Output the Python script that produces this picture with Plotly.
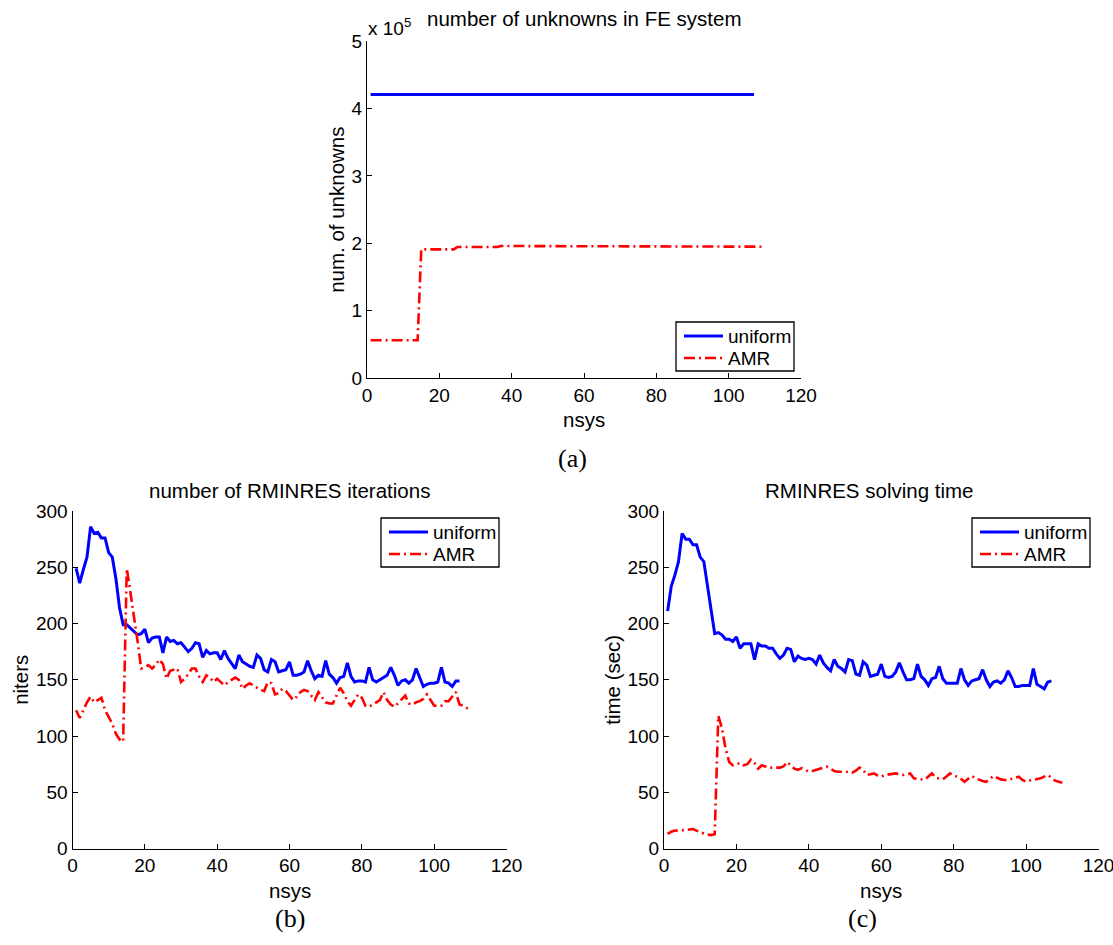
import plotly.graph_objects as go

# ---------------- data ----------------
nsys_uniform = list(range(1, 108))
nsys_amr = list(range(1, 111))

unknowns_uniform = [
    421000, 421000, 421000, 421000, 421000, 421000, 421000, 421000, 421000, 421000,
    421000, 421000, 421000, 421000, 421000, 421000, 421000, 421000, 421000, 421000,
    421000, 421000, 421000, 421000, 421000, 421000, 421000, 421000, 421000, 421000,
    421000, 421000, 421000, 421000, 421000, 421000, 421000, 421000, 421000, 421000,
    421000, 421000, 421000, 421000, 421000, 421000, 421000, 421000, 421000, 421000,
    421000, 421000, 421000, 421000, 421000, 421000, 421000, 421000, 421000, 421000,
    421000, 421000, 421000, 421000, 421000, 421000, 421000, 421000, 421000, 421000,
    421000, 421000, 421000, 421000, 421000, 421000, 421000, 421000, 421000, 421000,
    421000, 421000, 421000, 421000, 421000, 421000, 421000, 421000, 421000, 421000,
    421000, 421000, 421000, 421000, 421000, 421000, 421000, 421000, 421000, 421000,
    421000, 421000, 421000, 421000, 421000, 421000, 421000]

unknowns_amr = [
    56000, 56000, 56000, 56000, 56000, 56000, 56000, 56000, 56000, 56000,
    56000, 56000, 56000, 56000, 191000, 191000, 191000, 191000, 191000, 191000,
    191000, 191000, 191000, 191000, 194500, 194500, 194500, 194500, 194500, 194500,
    194500, 194500, 194500, 194500, 194500, 194500, 196000, 196000, 196000, 196000,
    196000, 196000, 196000, 196000, 196000, 196000, 196000, 196000, 196000, 196000,
    196000, 196000, 196000, 196000, 196000, 196000, 196000, 196000, 195000, 195000,
    195000, 195000, 195000, 195000, 195000, 195000, 195000, 195000, 195000, 195000,
    195000, 195000, 195000, 195000, 195000, 195000, 195000, 195000, 195000, 195000,
    195000, 195000, 195000, 195000, 195000, 195000, 195000, 195000, 195000, 195000,
    195000, 195000, 195000, 195000, 195000, 195000, 195000, 195000, 195000, 195000,
    195000, 195000, 195000, 195000, 195000, 195000, 195000, 195000, 195000, 195000]

niters_uniform = [
    249, 236, 248, 259, 286, 280, 281, 276, 276, 263,
    259, 240, 214, 199, 199, 196, 193, 190, 191, 195,
    183, 187, 188, 188, 174, 188, 184, 185, 182, 183,
    179, 175, 178, 183, 182, 170, 176, 173, 174, 174,
    168, 176, 169, 165, 160, 172, 166, 164, 162, 161,
    172, 169, 159, 157, 168, 166, 157, 158, 159, 166,
    154, 154, 155, 157, 167, 158, 151, 154, 153, 167,
    155, 152, 147, 152, 153, 165, 153, 148, 149, 149,
    148, 161, 150, 148, 150, 152, 154, 161, 154, 145,
    149, 150, 147, 150, 160, 152, 144, 146, 147, 147,
    148, 161, 148, 147, 144, 149, 149]

niters_amr = [
    123, 116, 123, 130, 135, 130, 132, 134, 123, 117,
    111, 102, 97, 95, 249, 228, 208, 184, 160, 161,
    163, 160, 163, 168, 164, 151, 158, 159, 160, 148,
    151, 155, 160, 160, 153, 148, 154, 152, 148, 151,
    148, 145, 148, 150, 152, 150, 142, 145, 147, 145,
    143, 141, 140, 148, 147, 137, 138, 142, 140, 136,
    132, 135, 139, 141, 140, 136, 132, 139, 134, 130,
    129, 129, 136, 143, 138, 131, 127, 132, 137, 134,
    127, 126, 128, 130, 132, 139, 132, 128, 126, 129,
    133, 136, 129, 128, 130, 131, 133, 137, 132, 127,
    127, 127, 131, 131, 135, 139, 128, 127, 125, 123]

time_uniform = [
    211, 233, 243, 255, 280, 275, 275, 270, 270, 259,
    255, 234, 212, 191, 192, 190, 186, 186, 184, 188,
    178, 182, 182, 182, 168, 182, 180, 180, 178, 178,
    173, 169, 172, 178, 177, 166, 171, 169, 168, 169,
    168, 164, 172, 165, 161, 158, 168, 162, 160, 157,
    168, 167, 155, 154, 166, 163, 153, 154, 155, 164,
    153, 152, 153, 157, 165, 157, 150, 150, 151, 164,
    153, 150, 145, 151, 152, 162, 151, 147, 147, 147,
    147, 160, 150, 145, 149, 150, 151, 159, 150, 144,
    148, 149, 147, 150, 158, 152, 144, 144, 145, 145,
    145, 160, 146, 144, 142, 148, 149]

time_amr = [
    13, 15, 16, 16, 16.5, 16.5, 17, 17.4, 16, 14.5,
    13.5, 12.5, 12, 12.7, 118, 107, 89, 77, 74, 75,
    76, 74, 75, 79, 76, 71, 74, 73, 71.7, 72,
    72.3, 72, 73, 77, 74, 71, 70, 71.5, 70, 68.3,
    69, 70, 71.5, 72, 72.8, 71, 69, 68.3, 68.5, 68.3,
    68, 67.4, 69.2, 72, 70, 65.4, 66, 66.8, 65, 64,
    65.4, 66, 66.5, 66.8, 66, 65.4, 66, 66.8, 62.4, 62,
    61, 61.2, 64, 66.8, 63, 62, 61.5, 64, 66.8, 65,
    63.9, 62, 59.4, 62, 64.5, 62.5, 61, 60, 59.4, 62,
    64.5, 63, 61.5, 61, 61, 62, 63, 63.9, 61, 59.4,
    60.5, 61, 62, 62.4, 64, 65.4, 63, 60.4, 59.4, 58.5]

series_names = ["uniform", "AMR"]
x_ticks = [0, 20, 40, 60, 80, 100, 120]
y_ticks_a = [0, 100000, 200000, 300000, 400000, 500000]
y_ticklabels_a = ["0", "1", "2", "3", "4", "5"]
y_ticks_bc = [0, 50, 100, 150, 200, 250, 300]

# ---------------- style ----------------
W, H = 1113, 945
SANS = "Liberation Sans, Arial, Helvetica, sans-serif"
SERIF = "Liberation Serif, Times New Roman, serif"
BLUE = "#0000ff"
RED = "#ff0000"
DASHDOT = "11px,4px,2px,4px"
FS_TICK = 19
FS_LABEL = 20.5
BLUE_W = 3
RED_W = 2.6


def px_x(p):
    return p / W


def px_y(p):
    return 1 - p / H


fig = go.Figure()

panels = [
    ("x", "y", unknowns_uniform, unknowns_amr),
    ("x2", "y2", niters_uniform, niters_amr),
    ("x3", "y3", time_uniform, time_amr),
]
for xa, ya, yu, yr in panels:
    fig.add_trace(go.Scatter(x=nsys_uniform, y=yu, mode="lines", name=series_names[0],
                             line=dict(color=BLUE, width=BLUE_W), xaxis=xa, yaxis=ya,
                             showlegend=False))
    fig.add_trace(go.Scatter(x=nsys_amr, y=yr, mode="lines", name=series_names[1],
                             line=dict(color=RED, width=RED_W, dash=DASHDOT),
                             xaxis=xa, yaxis=ya, showlegend=False))

axis_common = dict(showline=True, linecolor="black", linewidth=1, mirror=False,
                   ticks="inside", ticklen=5, tickwidth=1, tickcolor="black",
                   showgrid=False, zeroline=False, automargin=False,
                   ticklabeloverflow="allow",
                   tickfont=dict(family=SANS, size=FS_TICK, color="black"))


def xaxis(domain, anchor):
    d = dict(axis_common)
    d.update(domain=domain, anchor=anchor, range=[0, 120], tickmode="array",
             tickvals=x_ticks)
    return d


def yaxis(domain, anchor, rng, tickvals, ticktext, title):
    d = dict(axis_common)
    d.update(domain=domain, anchor=anchor, range=rng, tickmode="array",
             tickvals=tickvals, ticktext=ticktext,
             title=dict(text=title, font=dict(family=SANS, size=FS_LABEL, color="black"),
                        standoff=1))
    return d


xa_dom = [px_x(367), px_x(801)]
xb_dom = [px_x(72.5), px_x(506.5)]
xc_dom = [px_x(664), px_x(1098.5)]
ya_dom = [px_y(378), px_y(41.3)]
ybc_dom = [px_y(848.6), px_y(511)]

fig.update_layout(
    width=W, height=H,
    margin=dict(l=0, r=0, t=0, b=0),
    paper_bgcolor="white", plot_bgcolor="white",
    font=dict(family=SANS, size=FS_TICK, color="black"),
    showlegend=False,
    xaxis=xaxis(xa_dom, "y"),
    yaxis=yaxis(ya_dom, "x", [0, 500000], y_ticks_a, y_ticklabels_a, "num. of unknowns"),
    xaxis2=xaxis(xb_dom, "y2"),
    yaxis2=yaxis(ybc_dom, "x2", [0, 300], y_ticks_bc, [str(v) for v in y_ticks_bc], "niters"),
    xaxis3=xaxis(xc_dom, "y3"),
    yaxis3=yaxis(ybc_dom, "x3", [0, 300], y_ticks_bc, [str(v) for v in y_ticks_bc], "time (sec)"),
)

# titles
for text, cx, cy in [("number of unknowns in FE system", 584, 19),
                     ("number of RMINRES iterations", 289.5, 490),
                     ("RMINRES solving time", 869, 490)]:
    fig.add_annotation(xref="paper", yref="paper", showarrow=False, text=text,
                       x=px_x(cx), y=px_y(cy), xanchor="center", yanchor="middle",
                       font=dict(family=SANS, size=FS_LABEL, color="black"))

# x-axis titles, placed right under the tick labels
for cx, ty in [(584, 406), (289.5, 877), (881, 877)]:
    fig.add_annotation(xref="paper", yref="paper", showarrow=False, text="nsys",
                       x=px_x(cx), y=px_y(ty), xanchor="center", yanchor="top",
                       font=dict(family=SANS, size=FS_LABEL, color="black"))

# exponent label
fig.add_annotation(xref="paper", yref="paper", showarrow=False,
                   text="x 10<sup>5</sup>", x=px_x(366), y=px_y(27),
                   xanchor="left", yanchor="middle",
                   font=dict(family=SANS, size=FS_TICK, color="black"))

# sub-figure labels
for lbl, cx, cy in [("(a)", 572, 458), ("(b)", 290, 918), ("(c)", 862, 918)]:
    fig.add_annotation(xref="paper", yref="paper", showarrow=False,
                       text=lbl, x=px_x(cx), y=px_y(cy),
                       xanchor="center", yanchor="middle",
                       font=dict(family=SERIF, size=26, color="black"))

# legends (box, line samples, labels) in MATLAB style
for left, top in [(676, 322), (381, 518), (972, 518)]:
    right, bottom = left + 118, top + 49
    fig.add_shape(type="rect", xref="paper", yref="paper",
                  x0=px_x(left), x1=px_x(right), y0=px_y(bottom), y1=px_y(top),
                  line=dict(color="black", width=1.3), fillcolor="white", layer="above")
    rows = [(top + 14, BLUE, BLUE_W, "solid", series_names[0]),
            (top + 36, RED, RED_W, DASHDOT, series_names[1])]
    for ry, col, lw, dash, name in rows:
        fig.add_shape(type="line", xref="paper", yref="paper",
                      x0=px_x(left + 8), x1=px_x(left + 47), y0=px_y(ry), y1=px_y(ry),
                      line=dict(color=col, width=lw, dash=dash), layer="above")
        fig.add_annotation(xref="paper", yref="paper", showarrow=False, text=name,
                           x=px_x(left + 50), y=px_y(ry), xanchor="left", yanchor="middle",
                           font=dict(family=SANS, size=FS_TICK, color="black"))

fig.write_html("out.html")
